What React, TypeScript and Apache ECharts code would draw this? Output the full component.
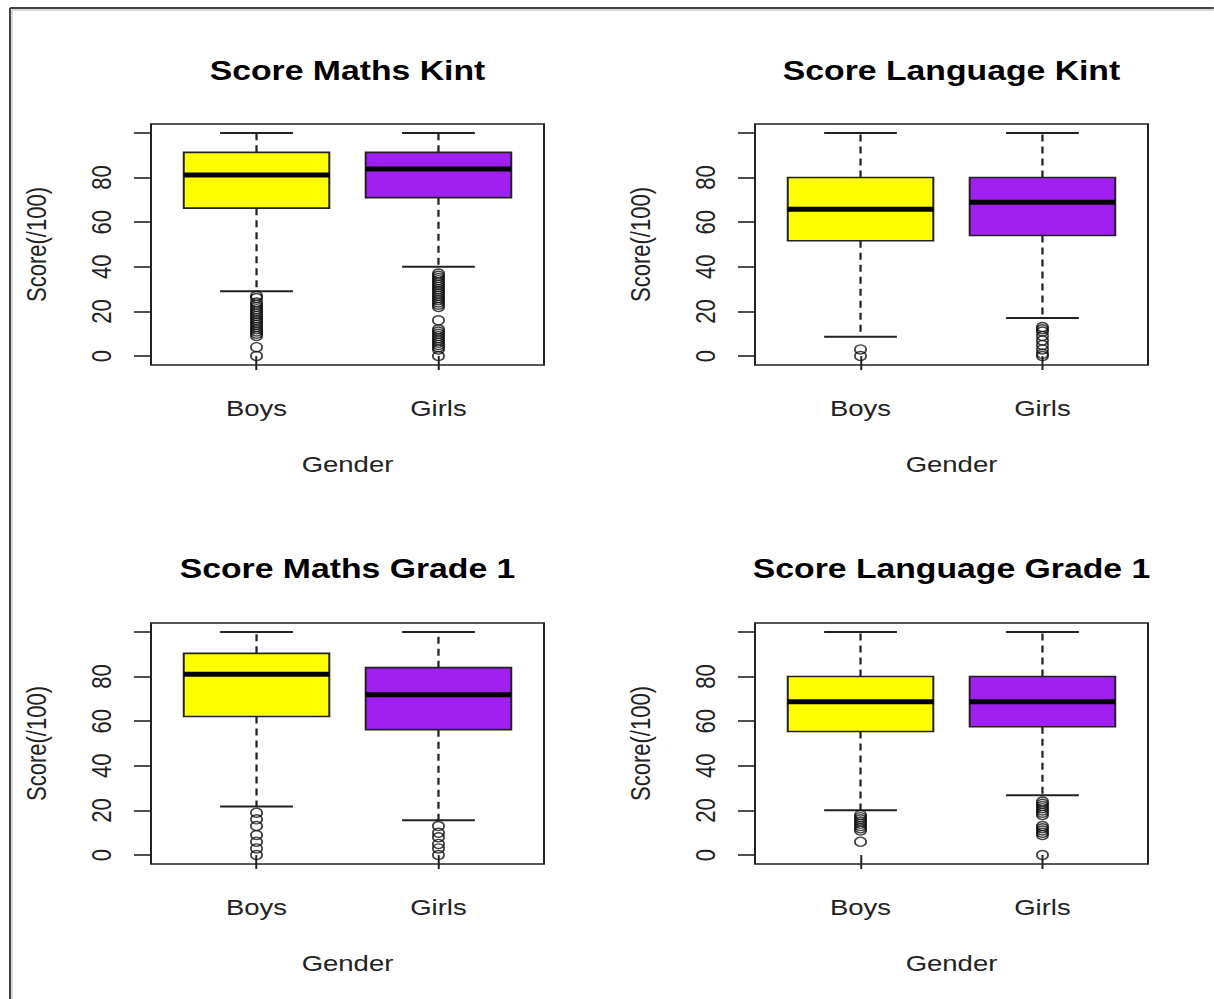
import React, { useEffect, useRef } from 'react';
import * as echarts from 'echarts';

// ---------- data ----------
const categories = ['Boys', 'Girls'];
const panelTitles = ['Score Maths Kint', 'Score Language Kint', 'Score Maths Grade 1', 'Score Language Grade 1'];
const yTicks = [0, 20, 40, 60, 80, 100];
const yTickLabels = [0, 20, 40, 60, 80];
const xLabel = 'Gender';
const yLabel = 'Score(/100)';
const boxColors = ['#FFFF00', '#A020F0'];

// [lower whisker, Q1, median, Q3, upper whisker]
const mathsKintBoys = [29, 66.3, 81.2, 91.3, 100];
const mathsKintGirls = [40, 71, 83.8, 91.3, 100];
const langKintBoys = [8.7, 51.7, 65.8, 80, 100];
const langKintGirls = [17.1, 54, 68.9, 80, 100];
const mathsG1Boys = [21.8, 62.1, 81, 90.4, 100];
const mathsG1Girls = [15.6, 56.2, 71.8, 84, 100];
const langG1Boys = [20.1, 55.4, 68.7, 80, 100];
const langG1Girls = [26.8, 57.5, 68.7, 80, 100];

// outliers
const mathsKintBoysOut = [27, 26, 24, 23, 22, 21, 20, 19, 18, 17, 16, 15, 14, 13, 12, 11, 10, 9, 4, 0];
const mathsKintGirlsOut = [37, 36, 35, 34, 33, 32, 31, 30, 29, 28, 27, 26, 25, 24, 23, 22, 16, 12, 11, 10, 9, 8, 7, 6, 5, 4, 3, 0];
const langKintBoysOut = [3, 0];
const langKintGirlsOut = [13, 12, 11, 9, 7, 5, 3, 1, 0];
const mathsG1BoysOut = [19, 16, 13, 9, 6, 3, 0];
const mathsG1GirlsOut = [13, 10, 8, 5, 3, 0];
const langG1BoysOut = [18, 17, 16, 15, 14, 13, 12, 11, 6];
const langG1GirlsOut = [24, 23, 22, 21, 20, 19, 18, 13, 12, 11, 10, 9, 0];

const panelStats = [
  [mathsKintBoys, mathsKintGirls],
  [langKintBoys, langKintGirls],
  [mathsG1Boys, mathsG1Girls],
  [langG1Boys, langG1Girls],
];
const panelOutliers = [
  [mathsKintBoysOut, mathsKintGirlsOut],
  [langKintBoysOut, langKintGirlsOut],
  [mathsG1BoysOut, mathsG1GirlsOut],
  [langG1BoysOut, langG1GirlsOut],
];

// ---------- layout (page px, horizontally compressed by S) ----------
const S = 1.25;
const FONT = 'Liberation Sans, Arial, Helvetica, sans-serif';
const gridLeftPage = [151, 755, 151, 755];
const gridTopPage = [124, 124, 623, 623];
const gridWPage = 393;
const gridH = 241;
const titleTop = [57, 57, 555, 555];

const renderBox = (params: any, api: any) => {
  const x = api.value(0);
  const lo = api.value(1);
  const q1 = api.value(2);
  const med = api.value(3);
  const q3 = api.value(4);
  const hi = api.value(5);
  const half = 0.4;
  const cap = 0.2;
  const tl = api.coord([x - half, q3]);
  const br = api.coord([x + half, q1]);
  const mL = api.coord([x - half, med]);
  const mR = api.coord([x + half, med]);
  const top = api.coord([x, hi]);
  const bot = api.coord([x, lo]);
  const capL = api.coord([x - cap, hi]);
  const capR = api.coord([x + cap, hi]);
  const capL2 = api.coord([x - cap, lo]);
  const capR2 = api.coord([x + cap, lo]);
  const dash = { stroke: '#222', lineWidth: 1.8, lineDash: [7, 5] };
  const solid = { stroke: '#222', lineWidth: 2 };
  return {
    type: 'group',
    children: [
      { type: 'line', shape: { x1: top[0], y1: tl[1], x2: top[0], y2: top[1] }, style: dash },
      { type: 'line', shape: { x1: bot[0], y1: br[1], x2: bot[0], y2: bot[1] }, style: dash },
      { type: 'line', shape: { x1: capL[0], y1: capL[1], x2: capR[0], y2: capR[1] }, style: solid },
      { type: 'line', shape: { x1: capL2[0], y1: capL2[1], x2: capR2[0], y2: capR2[1] }, style: solid },
      {
        type: 'rect',
        shape: { x: tl[0], y: tl[1], width: br[0] - tl[0], height: br[1] - tl[1] },
        style: { fill: boxColors[params.dataIndex], stroke: '#222', lineWidth: 1.6 },
      },
      { type: 'line', shape: { x1: mL[0], y1: mL[1], x2: mR[0], y2: mR[1] }, style: { stroke: '#000', lineWidth: 5 } },
    ],
  };
};

function buildOption() {
  const grids: any[] = [];
  const xAxes: any[] = [];
  const yAxes: any[] = [];
  const series: any[] = [];
  const titles: any[] = [];
  const textStyle = { fontSize: 22, color: '#222', fontFamily: FONT };
  for (let i = 0; i < 4; i++) {
    grids.push({
      left: gridLeftPage[i] / S,
      top: gridTopPage[i],
      width: gridWPage / S,
      height: gridH,
      show: true,
      borderColor: '#222',
      borderWidth: 1.6,
      backgroundColor: 'transparent',
    });
    xAxes.push({
      type: 'value',
      gridIndex: i,
      min: 0.42,
      max: 2.58,
      splitLine: { show: false },
      axisLine: { show: false },
      axisTick: { show: true, customValues: [1, 2], length: 14, lineStyle: { color: '#222', width: 1.6 } },
      axisLabel: {
        customValues: [1, 2],
        formatter: (v: number) => categories[Math.round(v) - 1],
        margin: 32,
        ...textStyle,
      },
      name: xLabel,
      nameLocation: 'middle',
      nameGap: 88,
      nameTextStyle: textStyle,
    });
    yAxes.push({
      type: 'value',
      gridIndex: i,
      min: -4,
      max: 104,
      splitLine: { show: false },
      axisLine: { show: false },
      axisTick: { show: true, customValues: yTicks, length: 17 / S, lineStyle: { color: '#222', width: 1.6 } },
      axisLabel: { customValues: yTickLabels, rotate: 90, margin: 29, ...textStyle },
      name: yLabel,
      nameLocation: 'middle',
      nameRotate: 90,
      nameGap: 81,
      nameTextStyle: textStyle,
    });
    series.push({
      type: 'custom',
      xAxisIndex: i,
      yAxisIndex: i,
      renderItem: renderBox,
      encode: { x: 0, y: [1, 2, 3, 4, 5] },
      data: panelStats[i].map((s, k) => [k + 1, ...s]),
      z: 2,
    });
    series.push({
      type: 'scatter',
      xAxisIndex: i,
      yAxisIndex: i,
      symbol: 'circle',
      symbolSize: 9,
      itemStyle: { color: 'transparent', borderColor: '#111', borderWidth: 1.4 },
      data: panelOutliers[i][0].map((v) => [1, v]).concat(panelOutliers[i][1].map((v) => [2, v])),
      z: 3,
    });
    titles.push({
      text: panelTitles[i],
      left: (gridLeftPage[i] + gridWPage / 2) / S,
      top: titleTop[i],
      textAlign: 'center',
      padding: 0,
      textStyle: { fontSize: 27, fontWeight: 'bold', color: '#000', fontFamily: FONT },
    });
  }
  return {
    animation: false,
    backgroundColor: '#fff',
    title: titles,
    grid: grids,
    xAxis: xAxes,
    yAxis: yAxes,
    series,
    graphic: [
      { type: 'line', shape: { x1: 8, y1: 8, x2: 1214 / S, y2: 8 }, style: { stroke: '#444', lineWidth: 2 } },
      { type: 'line', shape: { x1: 8, y1: 8, x2: 8, y2: 999 }, style: { stroke: '#444', lineWidth: 1.6 } },
      { type: 'line', shape: { x1: 9.5, y1: 10, x2: 1214 / S, y2: 10 }, style: { stroke: '#ccc', lineWidth: 1.5 } },
      { type: 'line', shape: { x1: 9.6, y1: 10, x2: 9.6, y2: 999 }, style: { stroke: '#ccc', lineWidth: 1.2 } },
    ],
  };
}

export default function App() {
  const ref = useRef<HTMLDivElement>(null);
  useEffect(() => {
    document.body.style.margin = '0';
    if (!ref.current) return;
    const chart = echarts.init(ref.current, undefined, { renderer: 'svg' });
    chart.setOption(buildOption() as any);
    return () => chart.dispose();
  }, []);
  return (
    <div style={{ width: 1214, height: 999, overflow: 'hidden', background: '#fff' }}>
      <div
        ref={ref}
        style={{ width: 1214 / S, height: 999, transform: `scaleX(${S})`, transformOrigin: '0 0' }}
      />
    </div>
  );
}
